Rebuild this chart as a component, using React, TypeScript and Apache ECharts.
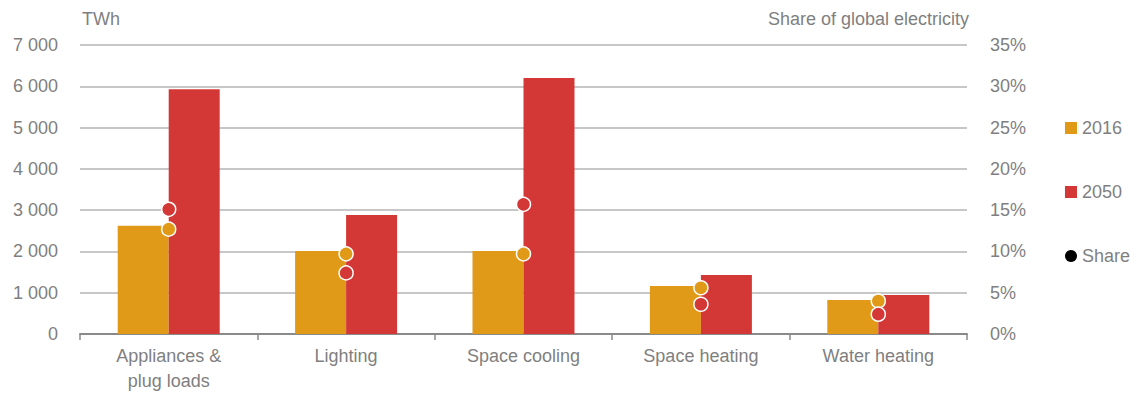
import React, { useEffect, useRef } from "react";
import * as echarts from "echarts";

const categories = ["Appliances &\nplug loads", "Lighting", "Space cooling", "Space heating", "Water heating"];
const twh2016 = [2620, 2010, 2010, 1160, 825];
const twh2050 = [5930, 2880, 6200, 1430, 945];
const share2016 = [12.7, 9.7, 9.7, 5.6, 4.0];
const share2050 = [15.1, 7.4, 15.7, 3.6, 2.4];
const leftTicks = { min: 0, max: 7000, interval: 1000 };
const rightTicks = { min: 0, max: 35, interval: 5 };

const ORANGE = "#E09A17";
const RED = "#D43836";
const GREY = "#7f7f7f";
const FONT = "Liberation Sans, Arial, sans-serif";

export default function App() {
  const ref = useRef<HTMLDivElement>(null);
  useEffect(() => {
    if (!ref.current) return;
    const chart = echarts.init(ref.current, undefined, { renderer: "svg" });
    const fmt = (v: number) => String(v).replace(/\B(?=(\d{3})+(?!\d))/g, " ");
    chart.setOption({
      animation: false,
      textStyle: { fontFamily: FONT },
      grid: { left: 80, right: 169, top: 45, bottom: 62 },
      graphic: [
        { type: "text", left: 82, top: 10, style: { text: "TWh", fill: GREY, font: `18px ${FONT}` } },
        { type: "text", right: 167, top: 10, style: { text: "Share of global electricity", fill: GREY, font: `18px ${FONT}` } },
      ],
      legend: {
        orient: "vertical",
        left: 1065,
        top: 119,
        padding: 0,
        itemGap: 46,
        itemWidth: 12,
        itemHeight: 12,
        textStyle: { color: GREY, fontSize: 18, fontFamily: FONT },
        data: [
          { name: "2016", icon: "rect" },
          { name: "2050", icon: "rect" },
          { name: "Share", icon: "circle" },
        ],
      },
      xAxis: {
        type: "category",
        data: categories,
        axisLine: { lineStyle: { color: "#8a8a8a", width: 2 } },
        axisTick: { show: true, length: 6, lineStyle: { color: "#8a8a8a", width: 1.5 } },
        axisLabel: { color: GREY, fontSize: 18, fontFamily: FONT, margin: 9, lineHeight: 25, interval: 0 },
      },
      yAxis: [
        {
          type: "value",
          ...leftTicks,
          axisLabel: { color: GREY, fontSize: 18, fontFamily: FONT, margin: 22, formatter: fmt },
          splitLine: { lineStyle: { color: "#b5b5b5", width: 1.5 } },
          axisLine: { show: false },
          axisTick: { show: false },
        },
        {
          type: "value",
          ...rightTicks,
          axisLabel: { color: GREY, fontSize: 18, fontFamily: FONT, margin: 23, formatter: "{value}%" },
          splitLine: { show: false },
          axisLine: { show: false },
          axisTick: { show: false },
        },
      ],
      series: [
        { name: "2016", type: "bar", data: twh2016, barWidth: 51, barGap: "0%", itemStyle: { color: ORANGE } },
        { name: "2050", type: "bar", data: twh2050, barWidth: 51, barGap: "0%", itemStyle: { color: RED } },
        {
          name: "Share 2016",
          type: "scatter",
          yAxisIndex: 1,
          data: share2016,
          symbolSize: 14,
          z: 5,
          itemStyle: { color: ORANGE, borderColor: "#fff", borderWidth: 1.5, opacity: 1 },
        },
        {
          name: "Share 2050",
          type: "scatter",
          yAxisIndex: 1,
          data: share2050,
          symbolSize: 14,
          z: 5,
          itemStyle: { color: RED, borderColor: "#fff", borderWidth: 1.5, opacity: 1 },
        },
        { name: "Share", type: "scatter", yAxisIndex: 1, data: [], itemStyle: { color: "#000", opacity: 1 } },
      ],
    });
    return () => chart.dispose();
  }, []);
  return <div ref={ref} style={{ width: 1136, height: 396, position: "absolute", left: 0, top: 0 }} />;
}
